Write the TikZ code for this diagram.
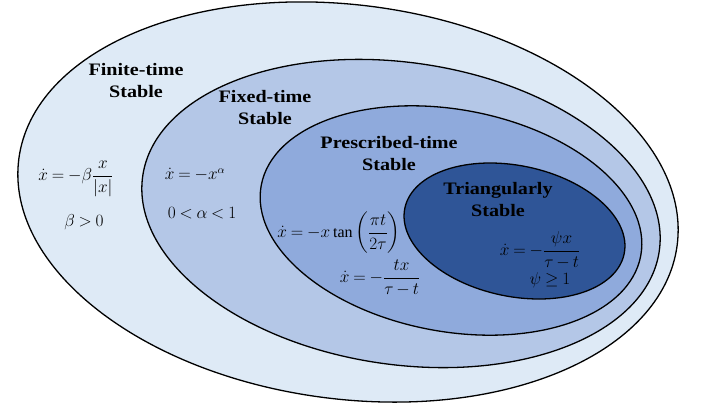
\documentclass[tikz,border=0pt]{standalone}
\usepackage{amsmath}
\usepackage{fontspec}
\setmainfont{Liberation Serif}
\newfontfamily\titlefont[FakeStretch=1.15]{Liberation Serif}
\definecolor{cA}{HTML}{DEEAF6}
\definecolor{cB}{HTML}{B4C7E7}
\definecolor{cC}{HTML}{8FAADC}
\definecolor{cD}{HTML}{2F5597}
\thickmuskip=4mu plus 2mu
\medmuskip=3mu plus 1mu
\begin{document}
\begin{tikzpicture}[x=1pt,y=-1pt,
  ring/.style={draw=black,line width=1.3pt},
  title/.style={font=\fontsize{17.5}{22}\titlefont\bfseries,align=center,inner sep=0pt},
  eq/.style={font=\fontsize{16}{19}\selectfont,inner sep=0pt}]
\useasboundingbox (0,0) rectangle (702,408);
\draw[ring,fill=cA,rotate around={-7.5:(348,202)}] (348,202) ellipse [x radius=332,y radius=197];
\draw[ring,fill=cB,rotate around={-8.3:(401,213.5)}] (401,213.5) ellipse [x radius=261,y radius=151];
\draw[ring,fill=cC,rotate around={-10.5:(451,220.5)}] (451,220.5) ellipse [x radius=193,y radius=111];
\draw[ring,fill=cD,rotate around={-11.8:(514.5,231)}] (514.5,231) ellipse [x radius=112,y radius=65.4];

\node[title] (ft) at (136,81) {Finite-time\\Stable};
\node[title] (fx) at (265,108) {Fixed-time\\Stable};
\node[title] (pt) at (389,153.5) {Prescribed-time\\Stable};
\node[title] (tr) at (498,200) {Triangularly\\Stable};

\node[eq] (e1) at (76,179) {$\dot{x}=-\beta\dfrac{x}{|x|}$};
\node[eq] (e1b) at (84,222) {$\beta>0$};
\node[eq] (e2) at (195,175) {$\dot{x}=-x^{\alpha}$};
\node[eq] (e2b) at (202,213) {$0<\alpha<1$};
\node[eq] (e3) at (339,233) {$\dot{x}=-x\tan\left(\dfrac{\pi t}{2\tau}\right)$};
\node[eq] (e4) at (380,278) {$\dot{x}=-\dfrac{tx}{\tau-t}$};
\node[eq] (e5) at (540,250) {$\dot{x}=-\dfrac{\psi x}{\tau-t}$};
\node[eq] (e5b) at (550,280) {$\psi\geq 1$};
\end{tikzpicture}
\end{document}
